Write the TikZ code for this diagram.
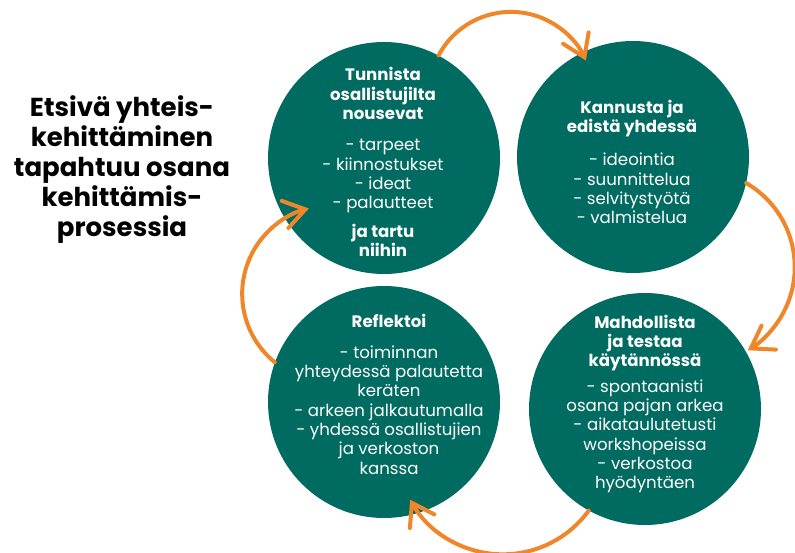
\documentclass[tikz,border=0pt]{standalone}
\usepackage{fontspec}
\setmainfont{Poppins}
\usetikzlibrary{arrows.meta,positioning}
\definecolor{petrooli}{HTML}{006B61}
\definecolor{oranssi}{HTML}{F0862A}
\tikzstyle{ympyra} = [circle, fill=petrooli, minimum size=232pt, inner sep=0pt]
\tikzstyle{teksti} = [text=white, align=center, inner sep=0pt, font=\fontsize{16.6}{19.3}\selectfont]
\tikzstyle{otsikko} = [align=center, inner sep=0pt, font=\bfseries\fontsize{26}{30}\selectfont]
\tikzstyle{kaari} = [draw=oranssi, line width=4pt, line cap=round, -{Straight Barb[length=21pt,width=28pt,line cap=round]}]
\begin{document}
\begin{tikzpicture}[x=1pt,y=1pt]
\useasboundingbox (0,0) rectangle (795,552);
\node(OT)[otsikko] at (122,382) {Etsivä yhteis-\\kehittäminen\\tapahtuu osana\\kehittämis-\\prosessia};
\node(TU)[ympyra] at (384,394) {};
\node(KA)[ympyra] at (633,395) {};
\node(MA)[ympyra] at (645,143) {};
\node(RE)[ympyra] at (384,150) {};
\node(TUt)[teksti] at (383,390) {\textbf{Tunnista}\\\textbf{osallistujilta}\\\textbf{nousevat}\\[12pt]- tarpeet\\- kiinnostukset\\- ideat\\- palautteet\\[9pt]\textbf{ja tartu}\\\textbf{niihin}};
\node(KAt)[teksti] at (632,390) {\textbf{Kannusta ja}\\\textbf{edistä yhdessä}\\[14pt]- ideointia\\- suunnittelua\\- selvitystyötä\\- valmistelua};
\node(MAt)[teksti] at (645,148) {\textbf{Mahdollista}\\\textbf{ja testaa}\\\textbf{käytännössä}\\[6pt]- spontaanisti\\osana pajan arkea\\- aikataulutetusti\\workshopeissa\\- verkostoa\\hyödyntäen};
\node(REt)[teksti] at (389,158) {\textbf{Reflektoi}\\[12pt]- toiminnan\\yhteydessä palautetta\\keräten\\- arkeen jalkautumalla\\- yhdessä osallistujien\\ja verkoston\\kanssa};
\draw[kaari] (TU.62) arc[start angle=152, end angle=24, radius=82pt];
\draw[kaari] (KA.-13) arc[start angle=60, end angle=-59, radius=97pt];
\draw[kaari] (MA.-119) arc[start angle=-36, end angle=-151, radius=106pt];
\draw[kaari] (RE.160) arc[start angle=231, end angle=104, radius=88pt];
\end{tikzpicture}
\end{document}
